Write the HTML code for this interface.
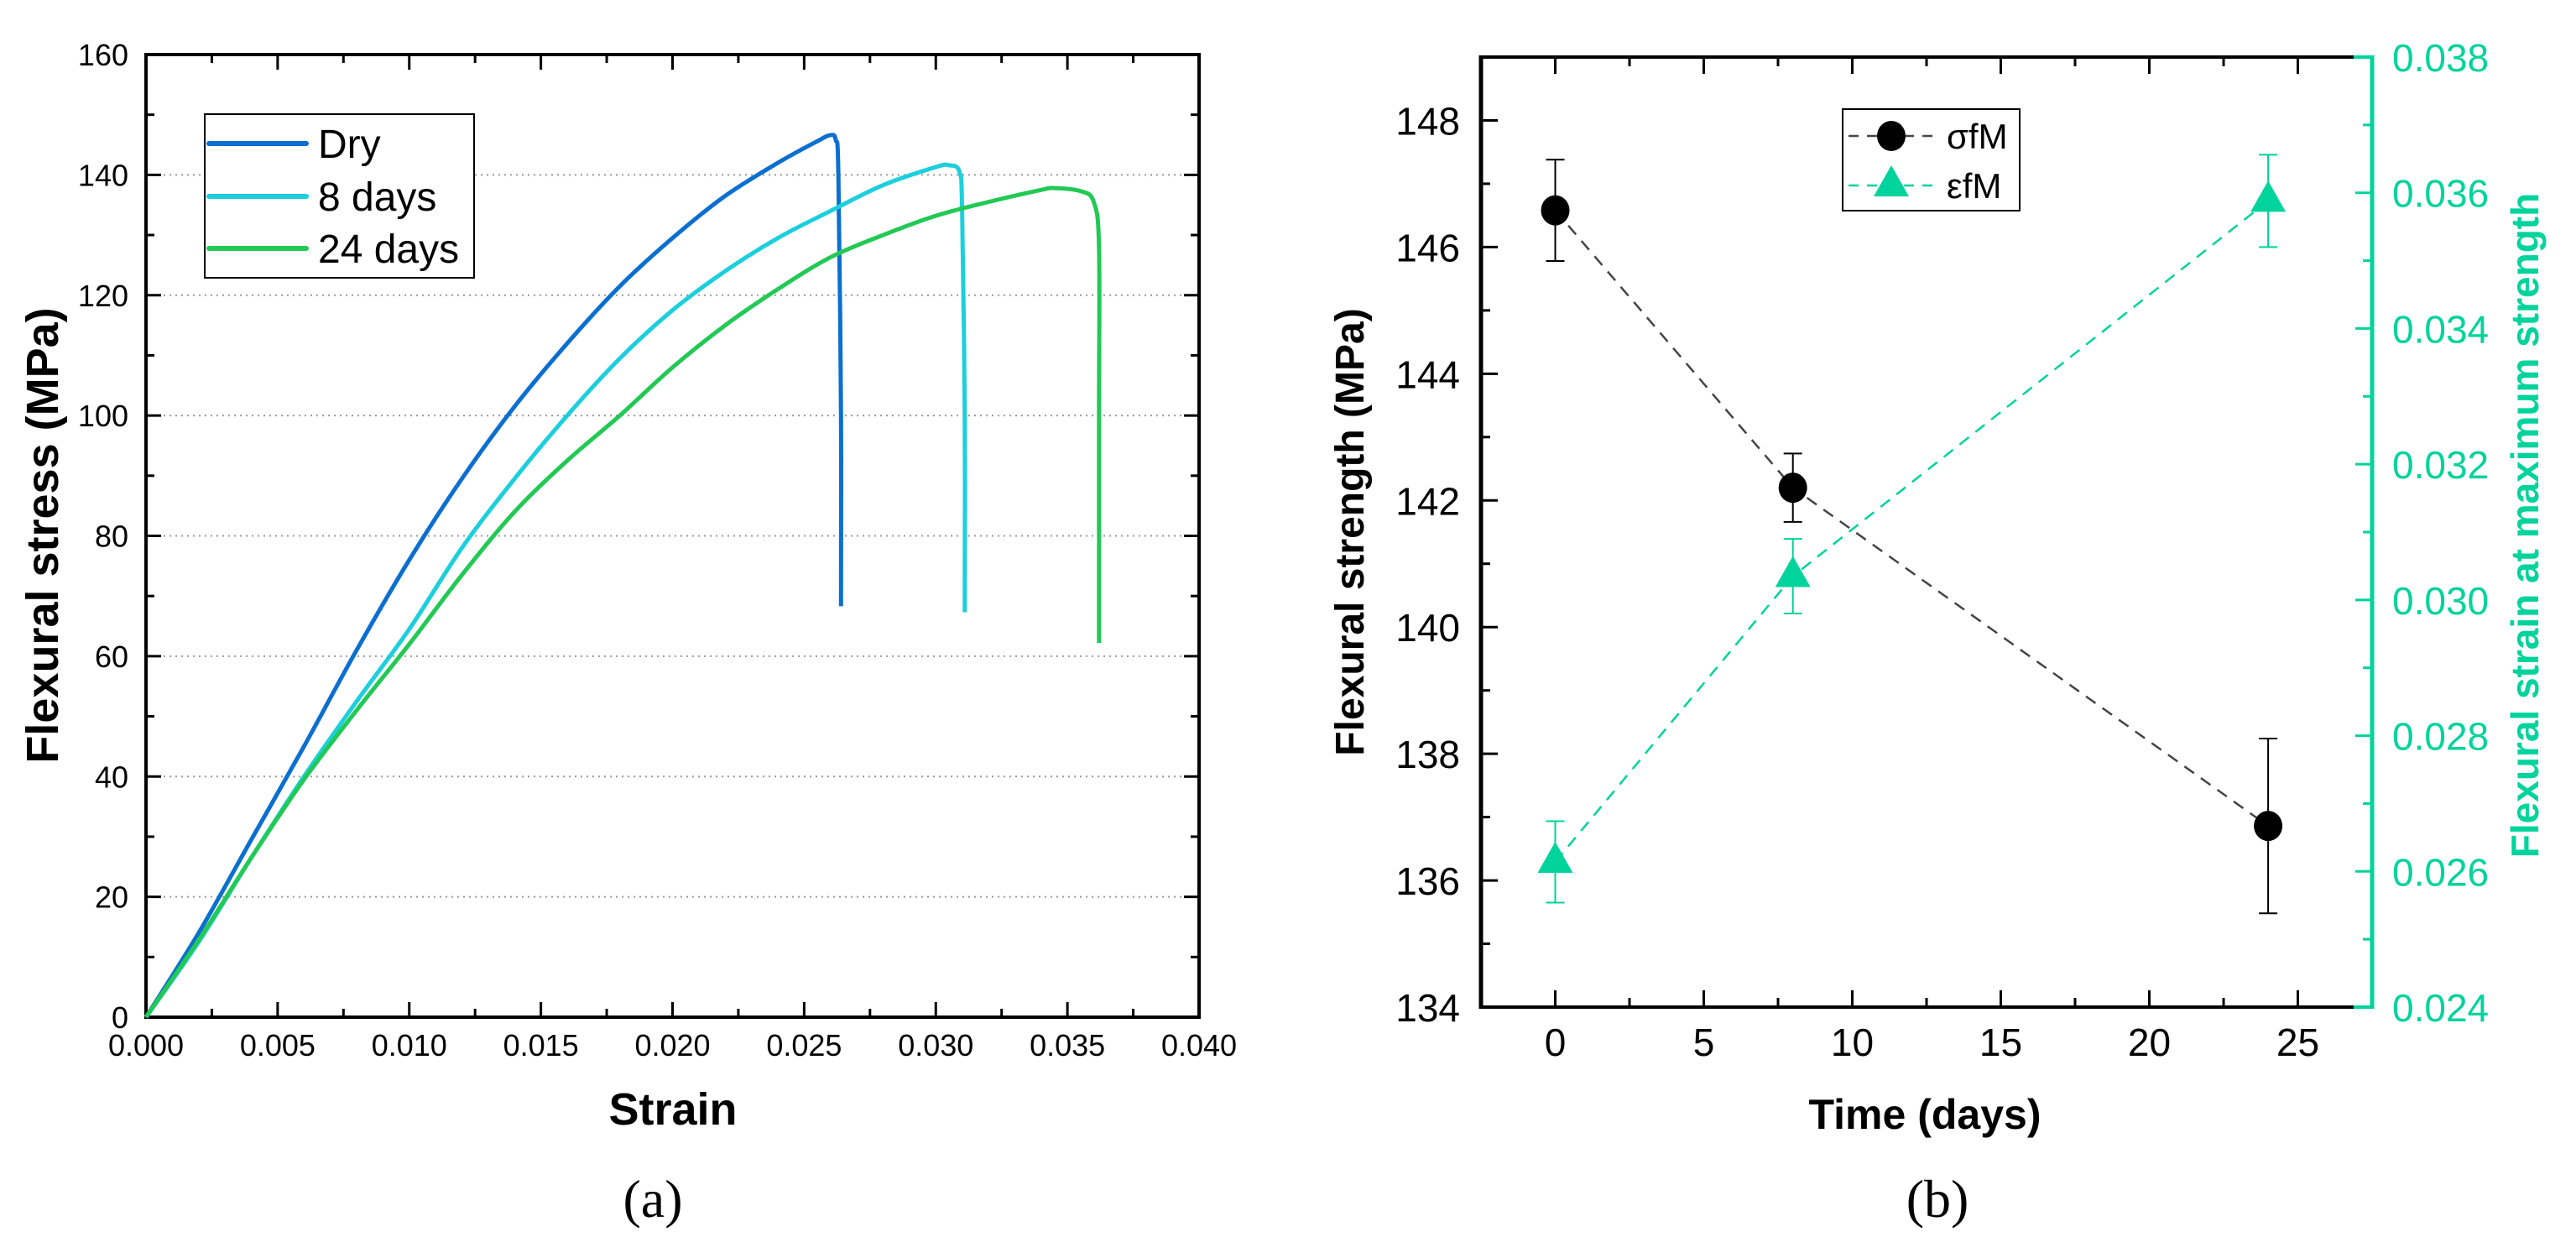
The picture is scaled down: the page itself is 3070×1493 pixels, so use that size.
<!DOCTYPE html>
<html><head><meta charset="utf-8"><style>
html,body{margin:0;padding:0;background:#fff;}
svg{display:block;font-family:"Liberation Sans",sans-serif;}
</style></head><body>
<svg id="fig" width="3070" height="1493" viewBox="0 0 3070 1493" xmlns="http://www.w3.org/2000/svg">
<g id="chartA"></g>
<g id="chartB"></g>
<text x="778" y="1450" font-family="Liberation Serif, serif" font-size="64" text-anchor="middle">(a)</text>
<text x="2309" y="1450" font-family="Liberation Serif, serif" font-size="64" text-anchor="middle">(b)</text>
</svg>
<script>
// ---- Chart A data ----
const strainTicks = ["0.000","0.005","0.010","0.015","0.020","0.025","0.030","0.035","0.040"];
const stressTicks = [0,20,40,60,80,100,120,140,160];
const seriesNames = ["Dry","8 days","24 days"];
const seriesColors = ["#0a6fd0","#1ccfdc","#22c955"];
const dryStrain = [0,0.002,0.004,0.006,0.008,0.010,0.012,0.014,0.016,0.018,0.020,0.022,0.024,0.0255,0.026,0.0262,0.0263,0.0264,0.0264];
const dryStress = [0,14,29.5,45,61,76,89.5,101.5,112,121.5,129.5,136.5,142,145.6,146.6,145.8,140,100,68.3];
const d8Strain = [0,0.002,0.004,0.006,0.008,0.010,0.012,0.014,0.016,0.018,0.020,0.022,0.024,0.026,0.028,0.030,0.0305,0.0309,0.031,0.0311,0.0311];
const d8Stress = [0,12.5,26.5,40,52.5,64.5,78,89.5,100,109.5,117.5,124,129.5,134,138.3,141.3,141.6,140.5,134,100,67.3];
const d24Strain = [0,0.002,0.004,0.006,0.008,0.010,0.012,0.014,0.016,0.018,0.020,0.022,0.024,0.026,0.028,0.030,0.032,0.034,0.0345,0.0355,0.0360,0.0362,0.0362,0.0362];
const d24Stress = [0,12.8,26.5,39.5,51,62,73.5,84,92.5,100,108,115,121,126.3,130,133.2,135.5,137.5,137.8,137.3,135.5,128,100,62.2];

// ---- Chart B data ----
const timeTicks = [0,5,10,15,20,25];
const strengthTicks = [134,136,138,140,142,144,146,148];
const strainRTicks = ["0.024","0.026","0.028","0.030","0.032","0.034","0.036","0.038"];
const days = [0,8,24];
const sigmaVals = [146.58,142.2,136.86];
const sigmaErr = [0.8,0.54,1.38];
const epsVals = [0.02614,0.03035,0.03588];
const epsErr = [0.0006,0.00055,0.00068];

const NS="http://www.w3.org/2000/svg";
function mk(parent,tag,attrs,txt){const e=document.createElementNS(NS,tag);for(const k in attrs)e.setAttribute(k,attrs[k]);if(txt!==undefined)e.textContent=txt;parent.appendChild(e);return e;}

// ===== Chart A =====
(function(){
const g=document.getElementById('chartA');
const L=174,R=1429,T=65,B=1212;
const xS=v=>L+(v-0)/(0.040)*(R-L);
const yS=v=>B-(v/160)*(B-T);
stressTicks.forEach(v=>{ if(v>0&&v<160){const l=mk(g,'line',{x1:L,x2:R,y1:yS(v),y2:yS(v),stroke:'#999','stroke-width':2,'stroke-dasharray':'2,5'});

}});
for(let i=0;i<=16;i++){const v=i*0.0025;const len=i%2==0?18:10;const x=xS(v);
mk(g,'line',{x1:x,x2:x,y1:B,y2:B-len,stroke:'#000','stroke-width':3});
mk(g,'line',{x1:x,x2:x,y1:T,y2:T+len,stroke:'#000','stroke-width':3});}
for(let i=0;i<=16;i++){const v=i*10;const len=i%2==0?18:10;const y=yS(v);
mk(g,'line',{x1:L,x2:L+len,y1:y,y2:y,stroke:'#000','stroke-width':3});
mk(g,'line',{x1:R,x2:R-len,y1:y,y2:y,stroke:'#000','stroke-width':3});}
const frame=mk(g,'rect',{x:L,y:T,width:R-L,height:B-T,fill:'none',stroke:'#000','stroke-width':4});


strainTicks.forEach((t,i)=>{const e=mk(g,'text',{x:xS(i*0.005),y:1258,'font-size':36,'text-anchor':'middle'},t);

});
stressTicks.forEach(v=>{const e=mk(g,'text',{x:153,y:yS(v)+13,'font-size':36,'text-anchor':'end'},String(v));

});
const xt=mk(g,'text',{x:802,y:1340,'font-size':54,'font-weight':'bold','text-anchor':'middle'},'Strain');


const yt=mk(g,'text',{x:0,y:0,'font-size':54,'font-weight':'bold','text-anchor':'middle',transform:'translate(69,638) rotate(-90)'},'Flexural stress (MPa)');


const sx=[dryStrain,d8Strain,d24Strain], sy=[dryStress,d8Stress,d24Stress];
const names=['curve-dry','curve-8-days','curve-24-days'];
sx.forEach((xs,k)=>{
 const pts=xs.map((v,i)=>[xS(v),yS(sy[k][i])]);
 let d='M'+pts[0][0]+','+pts[0][1];
 for(let i=1;i<pts.length;i++){const p0=pts[i-2]||pts[i-1],p1=pts[i-1],p2=pts[i],p3=pts[i+1]||pts[i];
  const c1=[p1[0]+(p2[0]-p0[0])/6,p1[1]+(p2[1]-p0[1])/6],c2=[p2[0]-(p3[0]-p1[0])/6,p2[1]-(p3[1]-p1[1])/6];
  d+=` C${c1[0]},${c1[1]} ${c2[0]},${c2[1]} ${p2[0]},${p2[1]}`;}
 const p=mk(g,'path',{d:d,fill:'none',stroke:seriesColors[k],'stroke-width':5,'stroke-linejoin':'round'});
 
 
});
const lg=mk(g,'g',{});


mk(lg,'rect',{x:244,y:136,width:321,height:195,fill:'#fff',stroke:'#000','stroke-width':2});
const ly=[171,234,296];
seriesNames.forEach((n,k)=>{
 const ln=mk(lg,'line',{x1:249,x2:365,y1:ly[k],y2:ly[k],stroke:seriesColors[k],'stroke-width':6,'stroke-linecap':'round'});
 
 
 const tx=mk(lg,'text',{x:379,y:ly[k]+17,'font-size':48},n);
 
 
});
})();

// ===== Chart B =====
(function(){
const g=document.getElementById('chartB');
const L=1765,R=2827,T=68,B=1200;
const GREEN='#00d39b';
const xS=v=>L+(v+2.5)/30*(R-L);
const yS=v=>B-(v-134)/15*(B-T);
const y2S=v=>B-(v-0.024)/0.014*(B-T);
for(let i=0;i<=11;i++){const v=i*2.5;const len=i%2==0?20:11;const x=xS(v);
mk(g,'line',{x1:x,x2:x,y1:B,y2:B-len,stroke:'#000','stroke-width':3});
mk(g,'line',{x1:x,x2:x,y1:T,y2:T+len,stroke:'#000','stroke-width':3});}
for(let v=134;v<=149;v++){const len=v%2==0?20:11;const y=yS(v);
mk(g,'line',{x1:L,x2:L+len,y1:y,y2:y,stroke:'#000','stroke-width':3});}
for(let i=0;i<=14;i++){const v=0.024+i*0.001;const len=i%2==0?20:11;const y=y2S(v);
mk(g,'line',{x1:R,x2:R-len,y1:y,y2:y,stroke:GREEN,'stroke-width':3});}
mk(g,'line',{x1:L,x2:2805,y1:T,y2:T,stroke:'#000','stroke-width':4});
mk(g,'line',{x1:L,x2:2805,y1:B,y2:B,stroke:'#000','stroke-width':4});
mk(g,'line',{x1:2805,x2:R,y1:T,y2:T,stroke:GREEN,'stroke-width':4});
mk(g,'line',{x1:2805,x2:R,y1:B,y2:B,stroke:GREEN,'stroke-width':4});
const la=mk(g,'line',{x1:L,x2:L,y1:T-2,y2:B+2,stroke:'#000','stroke-width':5});


const ra=mk(g,'line',{x1:R,x2:R,y1:T-2,y2:B+2,stroke:GREEN,'stroke-width':5});


timeTicks.forEach(v=>{const e=mk(g,'text',{x:xS(v),y:1258,'font-size':46,'text-anchor':'middle'},String(v));

});
strengthTicks.forEach(v=>{const e=mk(g,'text',{x:1740,y:yS(v)+17,'font-size':46,'text-anchor':'end'},String(v));

});
strainRTicks.forEach((t,i)=>{const e=mk(g,'text',{x:2851,y:y2S(0.024+i*0.002)+17,'font-size':46,fill:GREEN},t);

});
const xt=mk(g,'text',{x:2294,y:1345,'font-size':50,'font-weight':'bold','text-anchor':'middle'},'Time (days)');


const yt=mk(g,'text',{x:0,y:0,'font-size':48,'font-weight':'bold','text-anchor':'middle',transform:'translate(1625,634) rotate(-90)'},'Flexural strength (MPa)');


const y2t=mk(g,'text',{x:0,y:0,'font-size':46,'font-weight':'bold','text-anchor':'middle',fill:GREEN,transform:'translate(3025,626) rotate(-90)'},'Flexural strain at maximum strength');


const sl=mk(g,'polyline',{points:days.map((d,i)=>xS(d)+','+yS(sigmaVals[i])).join(' '),fill:'none',stroke:'#444','stroke-width':2.5,'stroke-dasharray':'14,10'});


const el=mk(g,'polyline',{points:days.map((d,i)=>xS(d)+','+y2S(epsVals[i])).join(' '),fill:'none',stroke:GREEN,'stroke-width':2.5,'stroke-dasharray':'14,10'});


days.forEach((d,i)=>{
 const x=xS(d);
 const t=yS(sigmaVals[i]+sigmaErr[i]),b=yS(sigmaVals[i]-sigmaErr[i]);
 const eb=mk(g,'path',{d:`M${x},${t}V${b}M${x-11},${t}H${x+11}M${x-11},${b}H${x+11}`,stroke:'#000','stroke-width':2,fill:'none'});
 
 
 const t2=y2S(epsVals[i]+epsErr[i]),b2=y2S(epsVals[i]-epsErr[i]);
 const eb2=mk(g,'path',{d:`M${x},${t2}V${b2}M${x-11},${t2}H${x+11}M${x-11},${b2}H${x+11}`,stroke:GREEN,'stroke-width':2,fill:'none'});
 
 
 const c=mk(g,'ellipse',{cx:x,cy:yS(sigmaVals[i]),rx:17,ry:18,fill:'#000'});
 
 
 const y=y2S(epsVals[i]);
 const tr=mk(g,'polygon',{points:`${x},${y-24} ${x-21},${y+13} ${x+21},${y+13}`,fill:GREEN});
 
 
});
const lg=mk(g,'g',{});


mk(lg,'rect',{x:2196,y:130,width:211,height:121,fill:'#fff',stroke:'#000','stroke-width':2});
mk(lg,'line',{x1:2203,x2:2305,y1:162,y2:162,stroke:'#444','stroke-width':2.5,'stroke-dasharray':'12,10'});
mk(lg,'ellipse',{cx:2254,cy:162,rx:17,ry:18,fill:'#000'});
const t1=mk(lg,'text',{x:2320,y:177,'font-size':42},'σfM');


mk(lg,'line',{x1:2203,x2:2305,y1:221,y2:221,stroke:GREEN,'stroke-width':2.5,'stroke-dasharray':'12,10'});
mk(lg,'polygon',{points:'2254,197 2233,234 2275,234',fill:GREEN});
const t2=mk(lg,'text',{x:2320,y:236,'font-size':42},'εfM');


})();
</script>
</body></html>
